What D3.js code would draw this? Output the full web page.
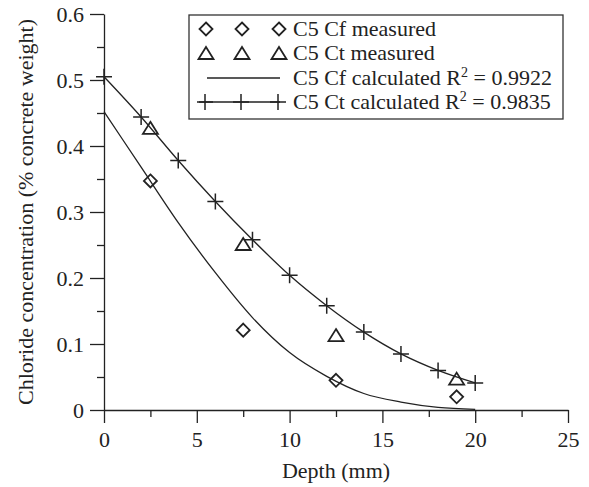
<!DOCTYPE html>
<html>
<head>
<meta charset="utf-8">
<script src="https://cdn.jsdelivr.net/npm/d3@7"></script>
</head>
<body style="margin:0">
<script>
// Measured values (depth mm, % concrete weight)
const cfMeasuredX = [2.5, 7.5, 12.5, 19];
const cfMeasuredY = [0.347, 0.121, 0.045, 0.02];
const ctMeasuredX = [2.5, 7.5, 12.5, 19];
const ctMeasuredY = [0.426, 0.25, 0.112, 0.046];

// Calculated curves
const calcX = [0, 2, 4, 6, 8, 10, 12, 14, 16, 18, 20];
const cfCalcY = [0.452, 0.368, 0.284, 0.208, 0.140, 0.087, 0.051, 0.025, 0.012, 0.004, 0.001];
const ctCalcY = [0.505, 0.444, 0.378, 0.316, 0.258, 0.204, 0.158, 0.118, 0.085, 0.060, 0.041];

const xTicks = [0, 5, 10, 15, 20, 25];
const yTicks = [0, 0.1, 0.2, 0.3, 0.4, 0.5, 0.6];

const legendLabels = [
  "C5 Cf measured",
  "C5 Ct measured",
  "C5 Cf calculated R",
  "C5 Ct calculated R"
];
const legendR2 = [null, null, "0.9922", "0.9835"];

const INK = "#222";
const FAMILY = "Times New Roman";

function serif(sel, size) {
  return sel.attr("font-family", FAMILY)
      .style("font-family", FAMILY)
      .style("font-size", (size || 22) + "px")
      .attr("fill", INK);
}

const margin = { top: 14, right: 21, bottom: 77, left: 104 },
    width = 589 - margin.left - margin.right,
    height = 487 - margin.top - margin.bottom;

const svg = d3.select("body")
    .append("svg")
    .attr("width", 589)
    .attr("height", 487)
    .attr("font-family", FAMILY);

const g = svg.append("g")
    .attr("transform", `translate(${margin.left},${margin.top})`);

const x = d3.scaleLinear().domain([0, 25]).range([0, width]);
const y = d3.scaleLinear().domain([0, 0.6]).range([height, 0]);

// minor ticks first, then major
g.append("g")
    .attr("transform", `translate(0,${height})`)
    .call(d3.axisBottom(x).tickValues(d3.range(2.5, 25, 5)).tickSize(7).tickFormat(""))
    .call(a => a.select(".domain").remove());
g.append("g")
    .call(d3.axisLeft(y).tickValues(d3.range(0.05, 0.6, 0.1)).tickSize(7).tickFormat(""))
    .call(a => a.select(".domain").remove());

g.append("g")
    .attr("transform", `translate(0,${height})`)
    .call(d3.axisBottom(x).tickValues(xTicks).tickSize(13).tickPadding(8).tickSizeOuter(0).tickFormat(d3.format("d")))
    .attr("font-family", FAMILY)
    .call(a => serif(a.selectAll("text")));
g.append("g")
    .call(d3.axisLeft(y).tickValues(yTicks).tickSize(14).tickPadding(6).tickSizeOuter(0)
        .tickFormat(d => d === 0 ? "0" : d3.format(".1f")(d)))
    .attr("font-family", FAMILY)
    .call(a => serif(a.selectAll("text")));

g.selectAll("g line, g path.domain").attr("stroke", INK).attr("stroke-width", 1.3);

g.append("text")
    .attr("text-anchor", "middle")
    .attr("x", width / 2)
    .attr("y", height + 68)
    .call(serif)
    .text("Depth (mm)");

g.append("text")
    .attr("text-anchor", "middle")
    .attr("transform", "rotate(-90)")
    .attr("x", -height / 2)
    .attr("y", -margin.left + 33)
    .call(serif)
    .text("Chloride concentration (% concrete weight)");

// curves
const line = d3.line()
    .x(d => x(d[0]))
    .y(d => y(d[1]))
    .curve(d3.curveMonotoneX);

const cfCalc = calcX.map((d, i) => [d, cfCalcY[i]]);
const ctCalc = calcX.map((d, i) => [d, ctCalcY[i]]);

g.append("path").datum(cfCalc)
    .attr("d", line).attr("fill", "none").attr("stroke", INK).attr("stroke-width", 1.3);
g.append("path").datum(ctCalc)
    .attr("d", line).attr("fill", "none").attr("stroke", INK).attr("stroke-width", 1.3);

// marker shapes
function plus(sel) {
  sel.append("path").attr("d", "M-8,0H8M0,-8V8")
      .attr("stroke", INK).attr("stroke-width", 1.5).attr("fill", "none");
}
function diamond(sel) {
  sel.append("path").attr("d", "M0,-6.5L6.5,0L0,6.5L-6.5,0Z")
      .attr("stroke", INK).attr("stroke-width", 1.8).attr("fill", "none");
}
function triangle(sel) {
  sel.append("path").attr("d", "M0,-7L7.5,5L-7.5,5Z")
      .attr("stroke", INK).attr("stroke-width", 1.8).attr("fill", "none");
}

g.selectAll(".plus").data(ctCalc).enter().append("g")
    .attr("transform", d => `translate(${x(d[0])},${y(d[1])})`)
    .call(plus);

g.selectAll(".dia").data(cfMeasuredX.map((d, i) => [d, cfMeasuredY[i]])).enter().append("g")
    .attr("transform", d => `translate(${x(d[0])},${y(d[1])})`)
    .call(diamond);

g.selectAll(".tri").data(ctMeasuredX.map((d, i) => [d, ctMeasuredY[i]])).enter().append("g")
    .attr("transform", d => `translate(${x(d[0])},${y(d[1])})`)
    .call(triangle);

// legend
const legend = svg.append("g");
legend.append("rect")
    .attr("x", 189).attr("y", 15).attr("width", 374).attr("height", 104)
    .attr("fill", "#fff").attr("stroke", "#333").attr("stroke-width", 1.3);

const rowY = [29, 53, 78, 102];
const symX = [206, 242, 279];

legendLabels.forEach((lab, i) => {
  const row = legend.append("g").attr("transform", `translate(0,${rowY[i]})`);
  if (i === 0) symX.forEach(sx => row.append("g").attr("transform", `translate(${sx},0)`).call(diamond));
  if (i === 1) symX.forEach(sx => row.append("g").attr("transform", `translate(${sx},1)`).call(triangle));
  if (i >= 2) {
    row.append("line").attr("x1", i === 2 ? 207 : 199).attr("x2", 280)
        .attr("stroke", INK).attr("stroke-width", 1.3);
  }
  if (i === 3) symX.forEach(sx => row.append("g").attr("transform", `translate(${sx - 1},0)`).call(plus));
  const t = row.append("text").attr("x", 293).attr("y", 7).call(serif).text(lab);
  if (legendR2[i]) {
    t.append("tspan").attr("dy", -8).attr("font-family", FAMILY).style("font-size", "14px").text("2");
    t.append("tspan").attr("dy", 8).attr("font-family", FAMILY).text(" = " + legendR2[i]);
  }
});
</script>
</body>
</html>
